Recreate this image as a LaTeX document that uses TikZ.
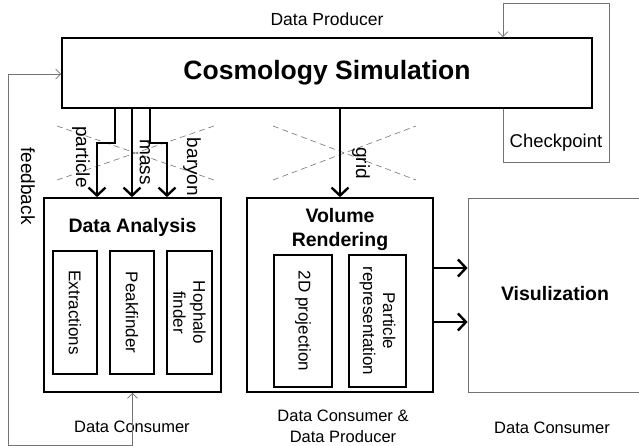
\documentclass[tikz,border=0pt]{standalone}
\usepackage{fontspec}
\setmainfont{Liberation Sans}
\usetikzlibrary{arrows.meta,positioning}

\begin{document}
\begin{tikzpicture}[
  x=1pt, y=-1pt,
  font=\fontsize{16.5}{21}\selectfont,
  box/.style={draw, line width=1.6pt, inner sep=0pt},
  sub/.style={draw, line width=1.3pt, inner sep=0pt, rotate=-90, align=center,
              font=\fontsize{17}{20}\selectfont, minimum height=#1},
  title/.style={font=\fontsize{19.5}{24}\selectfont\bfseries, align=center},
  lab/.style={rotate=-90, font=\fontsize{19}{22}\selectfont},
  flow/.style={line width=2.4pt, -{Straight Barb[length=8pt, width=17pt, line width=2.4pt]}},
  link/.style={draw=black!55, line width=0.8pt},
  tip/.style={-{Straight Barb[length=5pt, width=10pt]}},
  cross/.style={draw=black!55, line width=0.6pt, dash pattern=on 6pt off 4pt},
]
  \useasboundingbox (0,0) rectangle (639,446);

  \node[box, minimum width=530pt, minimum height=70pt] (sim) at (327,73)
    {\fontsize{26.5}{32}\selectfont\bfseries Cosmology Simulation};
  \node[font=\fontsize{17.5}{21}\selectfont] (prod) at (327,19) {Data Producer};

  \node[box, minimum width=177pt, minimum height=194pt] (ana) at (132.5,295) {};
  \node[title] (anat) at (132.5,227) {Data Analysis};
  \node[sub=44pt, minimum width=123pt] (ext) at (75,312.5) {Extractions};
  \node[sub=44pt, minimum width=123pt] (peak) at (132,312.5) {Peakfinder};
  \node[sub=45pt, minimum width=123pt] (hop) at (189.5,312.5) {Hophalo\\finder};

  \node[box, minimum width=186pt, minimum height=194pt] (vol) at (340,295) {};
  \node[title] (volt) at (340,230) {Volume\\Rendering};
  \node[sub=58pt, minimum width=132pt] (proj) at (303,321) {2D projection};
  \node[sub=57pt, minimum width=132pt] (prep) at (377.5,321) {Particle\\representation};

  \node[draw=black!55, line width=0.8pt, minimum width=174pt, minimum height=194pt,
        inner sep=0pt] (vis) at (555,295) {};
  \node[title] (vist) at (555,294) {Visulization};

  \node (cons1) at (132,427) {Data Consumer};
  \node[align=center] (cons2) at (343,426) {Data Consumer \&\\Data Producer};
  \node (cons3) at (552,428) {Data Consumer};

  \draw[cross] (57,126) -- (214,180) (57,180) -- (214,126);
  \draw[cross] (273,126) -- (416,180) (273,180) -- (416,126);

  \coordinate (pa) at (115,143);
  \coordinate (pb) at (97,143);
  \coordinate (ma) at (132,143);
  \coordinate (ba) at (150,143);
  \coordinate (bb) at (167,143);
  \draw[flow] (sim.south -| pa) -- (pa) -- (pb) -- (pb |- ana.north);
  \draw[flow] (sim.south -| ma) -- (ma |- ana.north);
  \draw[flow] (sim.south -| ba) -- (ba) -- (bb) -- (bb |- ana.north);
  \draw[flow] (sim.south -| vol.north) -- (vol.north);

  \coordinate (r1) at (450,268);
  \coordinate (r2) at (450,322);
  \draw[flow] (vol.east |- r1) -- (vis.west |- r1);
  \draw[flow] (vol.east |- r2) -- (vis.west |- r2);

  \node[lab] (lpart) at (81,157) {particle};
  \node[lab] (lmass) at (145,162) {mass};
  \node[lab] (lbary) at (192,167) {baryon};
  \node[lab] (lgrid) at (361,163) {grid};

  \coordinate (c1) at (503,162);
  \coordinate (c2) at (609,3);
  \draw[link, tip] (sim.south -| c1) -- (c1) -| (c2) -| (sim.north -| c1);
  \node[font=\fontsize{18.5}{22}\selectfont] (ckpt) at (556,143) {Checkpoint};

  \coordinate (f1) at (8,445);
  \coordinate (f2) at (8,74);
  \draw[link, {Straight Barb[length=5pt, width=10pt]}-{Straight Barb[length=5pt, width=10pt]}]
    (ana.south) -- (ana.south |- f1) -| (f2) -- (sim.west |- f2);
  \node[lab] (lfeed) at (28,186) {feedback};
\end{tikzpicture}
\end{document}
